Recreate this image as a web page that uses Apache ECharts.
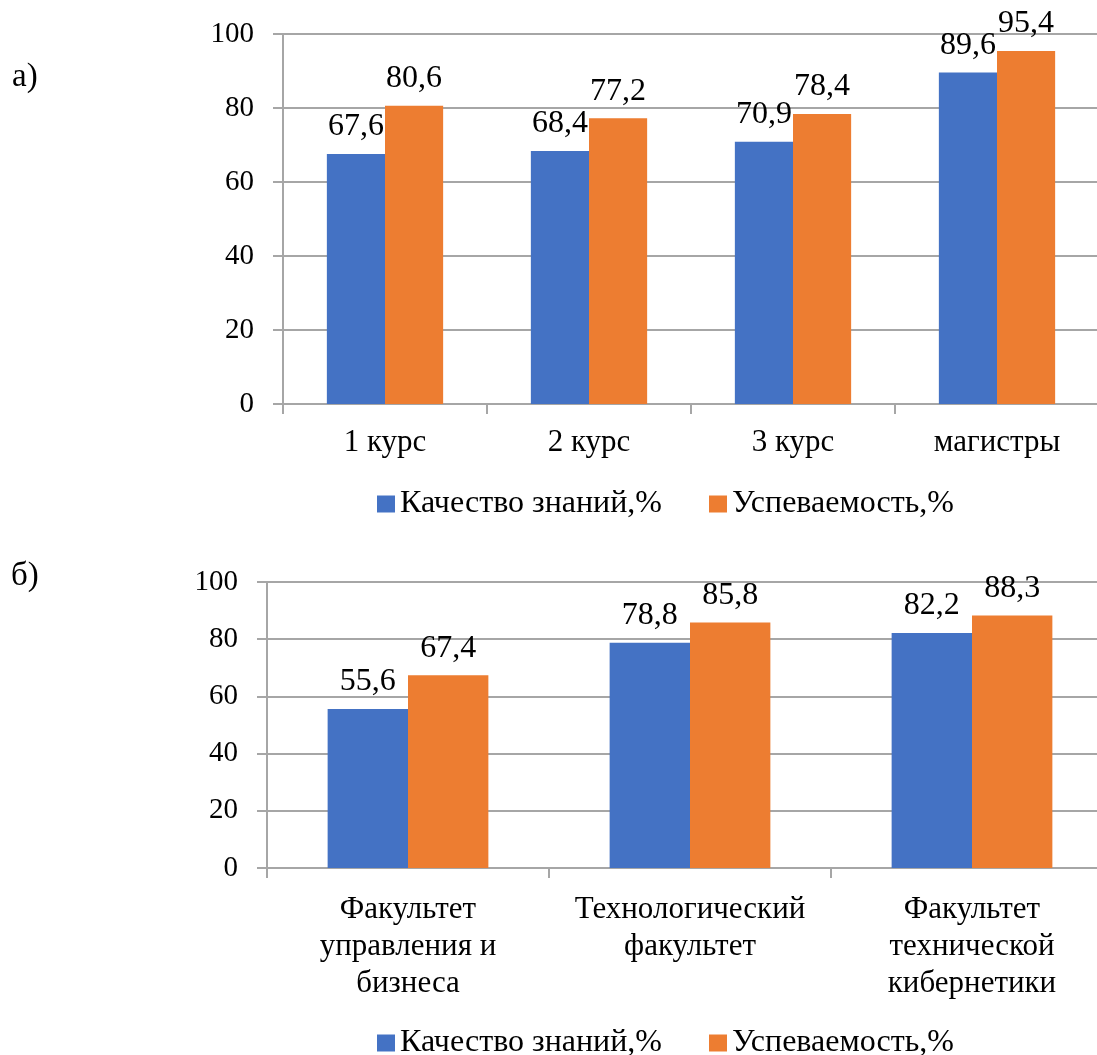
<!DOCTYPE html>
<html><head><meta charset="utf-8">
<script src="https://cdn.jsdelivr.net/npm/echarts@6/dist/echarts.min.js"></script>
<style>html,body{margin:0;padding:0;background:#fff;overflow:hidden}#c{width:1130px;height:1055px}</style>
</head><body><div id="c"></div>
<script>
var seriesNames = ['Качество знаний,%', 'Успеваемость,%'];
var catsA = ['1 курс', '2 курс', '3 курс', 'магистры'];
var qualityA = [67.6, 68.4, 70.9, 89.6];
var progressA = [80.6, 77.2, 78.4, 95.4];
var catsB = ['Факультет\nуправления и\nбизнеса', 'Технологический\nфакультет', 'Факультет\nтехнической\nкибернетики'];
var qualityB = [55.6, 78.8, 82.2];
var progressB = [67.4, 85.8, 88.3];
var yTicks = [0, 20, 40, 60, 80, 100];

var FONT = 'Liberation Serif';
var BLUE = '#4472C4', ORANGE = '#ED7D31', GRID = '#A6A6A6';
function fmt(p){ return p.value.toFixed(1).replace('.', ','); }
function lbl(){ return {show:true, position:'top', distance:11, formatter:fmt, fontFamily:FONT, fontSize:32, color:'#000'}; }
function xAx(idx, cats, margin){
  return {type:'category', gridIndex:idx, data:cats, boundaryGap:true,
    axisLine:{show:true, lineStyle:{color:GRID, width:2}},
    axisTick:{show:true, length:10, alignWithLabel:false, lineStyle:{color:GRID, width:2}},
    axisLabel:{interval:0, fontFamily:FONT, fontSize:31, color:'#000', margin:margin, lineHeight:37}};
}
function yAx(idx){
  return {type:'value', gridIndex:idx, min:yTicks[0], max:yTicks[yTicks.length-1], interval:20,
    axisLine:{show:true, lineStyle:{color:GRID, width:2}},
    axisTick:{show:true, length:10, lineStyle:{color:GRID, width:2}},
    splitLine:{show:true, lineStyle:{color:GRID, width:2}},
    axisLabel:{fontFamily:FONT, fontSize:29, color:'#000', margin:29}};
}
function bar(name, data, color, xi){
  return {type:'bar', name:name, data:data, xAxisIndex:xi, yAxisIndex:xi, itemStyle:{color:color},
    barGap:'0%', barCategoryGap:'43%', label:lbl(), animation:false};
}
function legend(top){
  return {data:seriesNames, left:372, top:top, itemWidth:18, itemHeight:17, itemGap:47, icon:'rect',
     textStyle:{fontFamily:FONT, fontSize:32, color:'#000'}};
}
var chart = echarts.init(document.getElementById('c'), null, {renderer:'canvas'});
chart.setOption({
  animation:false,
  grid:[{left:283, top:34, height:370, width:816},{left:267, top:582, height:286, width:846}],
  xAxis:[xAx(0, catsA, 20), xAx(1, catsB, 23)],
  yAxis:[yAx(0), yAx(1)],
  legend:[legend(483), legend(1022)],
  graphic:[
    {type:'text', left:12, top:61, style:{text:'а)', font:'33px "Liberation Serif"', fill:'#000'}},
    {type:'text', left:11, top:560, style:{text:'б)', font:'33px "Liberation Serif"', fill:'#000'}}
  ],
  series:[
    bar(seriesNames[0], qualityA, BLUE, 0),
    bar(seriesNames[1], progressA, ORANGE, 0),
    bar(seriesNames[0], qualityB, BLUE, 1),
    bar(seriesNames[1], progressB, ORANGE, 1)
  ]
});
</script></body></html>
